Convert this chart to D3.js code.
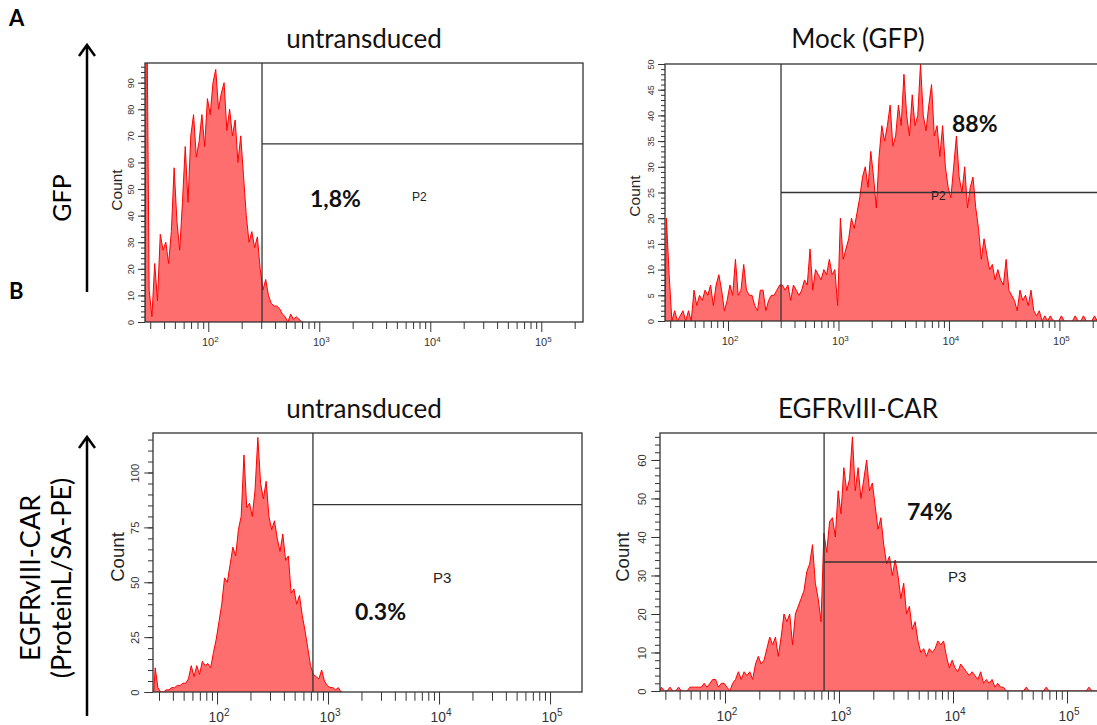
<!DOCTYPE html>
<html>
<head>
<meta charset="utf-8">
<script src="https://cdn.jsdelivr.net/npm/d3@7"></script>
<style>
  body { margin: 0; background: #fff; }
  svg text { font-family: "Liberation Sans", Arial, sans-serif; }
  .big { font-family: Lato, "Open Sans", sans-serif !important; }
</style>
</head>
<body>
<svg id="fig" width="1097" height="725"></svg>
<script>
// histogram channels: log10 fluorescence, first bin starts at binLogStart
var binLogStart = 1.43;
var binLogStep = 0.025;

// counts per channel
var untransducedGfp = [140, 12, 2, 22, 8, 33, 27, 30, 22, 34, 58, 38, 27, 45, 66, 45, 70, 78, 62, 68,
  78, 66, 84, 78, 90, 95, 80, 86, 90, 72, 80, 70, 76, 60, 70, 55, 40, 30, 34, 28,
  32, 20, 12, 16, 10, 7, 6, 6, 5, 3, 2, 0, 3, 1, 2, 1, 0];

var mockGfp = [20, 9, 0, 2, 0, 1, 2, 0, 2, 0, 6, 3, 5, 4, 6, 5, 7, 3, 7, 9,
  6, 2, 4, 7, 5, 12, 5, 6, 11, 6, 5, 5, 3, 2, 6, 6, 2, 4, 5, 5,
  6, 7, 7, 6, 7, 4, 7, 6, 5, 6, 8, 7, 14, 6, 10, 9, 8, 10, 9, 12,
  9, 10, 3, 20, 12, 14, 16, 20, 18, 21, 24, 28, 30, 26, 33, 28, 22, 32, 38, 35,
  38, 42, 34, 36, 42, 38, 48, 40, 36, 44, 38, 40, 50, 40, 37, 42, 46, 36, 38, 32,
  38, 30, 26, 24, 30, 36, 28, 25, 30, 22, 26, 28, 22, 18, 12, 16, 13, 10, 11, 8,
  10, 8, 7, 12, 6, 5, 4, 2, 6, 4, 5, 3, 6, 2, 1, 2, 0, 1, 0, 1,
  0, 0, 0, 1, 0, 0, 0, 0, 1, 0, 0, 1, 0, 0, 0, 1, 0];

var untransducedCar = [11, 2, 0, 0, 1, 1, 2, 2, 3, 3, 4, 4, 6, 12, 7, 12, 8, 14, 12, 13,
  11, 18, 24, 32, 40, 52, 50, 58, 66, 62, 74, 80, 108, 84, 86, 80, 92, 116, 95, 88,
  96, 80, 74, 78, 70, 64, 72, 60, 62, 45, 47, 40, 44, 35, 28, 20, 12, 8, 7, 6,
  10, 5, 3, 2, 2, 1, 2, 0];

var egfrCar = [1, 0, 0, 1, 0, 0, 1, 0, 0, 0, 1, 1, 1, 1, 1,
  2, 1, 2, 3, 3, 1, 2, 2, 1, 0, 2, 3, 5, 3, 5, 4, 5, 3, 7, 9,
  7, 8, 11, 14, 12, 14, 9, 14, 20, 18, 20, 12, 20, 22, 24, 26, 31, 33, 38, 28,
  24, 18, 41, 36, 44, 45, 40, 52, 46, 58, 52, 55, 66, 52, 58, 50, 55, 60, 52, 54,
  48, 42, 45, 38, 33, 35, 30, 34, 30, 24, 28, 20, 22, 16, 18, 13, 10, 11, 9, 11,
  10, 11, 13, 12, 13, 9, 6, 8, 6, 5, 7, 6, 5, 4, 5, 4, 3, 5, 2, 3,
  2, 3, 1, 2, 1, 1, 0, 0, 0, 0, 0, 0, 0, 1, 0, 0, 0, 0, 0, 0,
  1, 0, 0, 0, 0, 0, 0, 0, 0, 0, 0, 0, 0, 0, 0, 1, 0, 0, 0, 0, 0];

var panelTitles = ["untransduced", "Mock (GFP)", "untransduced", "EGFRvIII-CAR"];
var gateNames = ["P2", "P2", "P3", "P3"];
var gatePercents = ["1,8%", "88%", "0.3%", "74%"];
var gateThresholds = [305, 302, 731, 740];
var gateCountLines = [67, 25, 85.4, 33.5];
var countMax = [97.4, 50, 118, 67];
var countLabelStep = [10, 5, 25, 10];
var countMinorStep = [2, 1, 5, 2];
var decades = [2, 3, 4, 5];
var minorMult = [2, 3, 4, 5, 6, 7, 8, 9];
var rowLetters = ["A", "B"];
var rowLabels = [["GFP"], ["EGFRvIII-CAR", "(ProteinL/SA-PE)"]];

var histograms = [untransducedGfp, mockGfp, untransducedCar, egfrCar];

// where each panel sits
var layout = [
  { left: 145, top: 63, width: 438, height: 259, logMin: 1.43, logMax: 5.376, fs: 1,
    titleX: 364, titleY: 48, pct: [310, 207], gate: [412, 201], count: [117, 190] },
  { left: 665, top: 64, width: 436, height: 257, logMin: 1.43, logMax: 5.376, fs: 1,
    titleX: 858, titleY: 48, pct: [952, 132], gate: [931, 200], count: [635, 196] },
  { left: 153, top: 433, width: 429, height: 259, logMin: 1.423, logMax: 5.288, fs: 1.25,
    titleX: 364, titleY: 418, pct: [355, 620], gate: [433, 583], count: [117, 557] },
  { left: 660, top: 433, width: 441, height: 258, logMin: 1.43, logMax: 5.298, fs: 1.25,
    titleX: 858, titleY: 418, pct: [907, 520], gate: [948, 582], count: [622, 557] }
];

var svg = d3.select("#fig");

layout.forEach(function(p, k) {
  var bottom = p.top + p.height;
  var right = p.left + p.width;
  var x = d3.scaleLog()
      .domain([Math.pow(10, p.logMin), Math.pow(10, p.logMax)])
      .range([p.left, right]);
  var y = d3.scaleLinear()
      .domain([0, countMax[k]])
      .range([bottom, p.top]);

  var g = svg.append("g");

  g.append("clipPath").attr("id", "clip" + k)
    .append("rect")
      .attr("x", p.left).attr("y", p.top)
      .attr("width", p.width).attr("height", p.height);

  // channel centres, closed to the baseline at both ends
  var counts = histograms[k];
  var pts = [[Math.pow(10, binLogStart), 0]];
  counts.forEach(function(c, i) {
    pts.push([Math.pow(10, binLogStart + (i + 0.5) * binLogStep), c]);
  });
  pts.push([Math.pow(10, binLogStart + counts.length * binLogStep), 0]);

  var area = d3.area()
      .x(function(d) { return x(d[0]); })
      .y0(y(0))
      .y1(function(d) { return y(d[1]); });
  var line = d3.line()
      .x(function(d) { return x(d[0]); })
      .y(function(d) { return y(d[1]); });

  var hist = g.append("g").attr("clip-path", "url(#clip" + k + ")");
  hist.append("path").datum(pts)
      .attr("d", area)
      .attr("fill", "#ff6e6e");
  hist.append("path").datum(pts)
      .attr("d", line)
      .attr("fill", "none")
      .attr("stroke", "#ff0000")
      .attr("stroke-width", 1);

  // y axis, minor then major
  g.append("g")
      .attr("transform", "translate(" + p.left + ",0)")
      .call(d3.axisLeft(y)
        .tickValues(d3.range(0, countMax[k], countMinorStep[k]))
        .tickSize(4 * p.fs).tickSizeOuter(0).tickFormat(""))
      .call(function(a) { a.select(".domain").remove(); a.selectAll("line").attr("stroke", "#333"); });

  var yAx = g.append("g")
      .attr("transform", "translate(" + p.left + ",0)")
      .call(d3.axisLeft(y)
        .tickValues(d3.range(0, countMax[k] + 0.01, countLabelStep[k]))
        .tickSize(7 * p.fs).tickSizeOuter(0));
  yAx.select(".domain").remove();
  yAx.selectAll("line").attr("stroke", "#333");
  yAx.selectAll("text")
      .attr("x", null).attr("dy", null)
      .attr("text-anchor", "middle")
      .attr("transform", "translate(" + (-11 * p.fs) + ",0) rotate(-90)")
      .attr("font-size", 9 * p.fs)
      .attr("font-family", "Liberation Sans, Arial, sans-serif")
      .attr("fill", "#333");

  // x axis: log minor ticks and decades
  var minorVals = [];
  [1, 2, 3, 4, 5].forEach(function(n) {
    minorMult.forEach(function(m) {
      var v = m * Math.pow(10, n);
      if (v > x.domain()[0] && v < x.domain()[1]) minorVals.push(v);
    });
  });
  g.append("g")
      .attr("transform", "translate(0," + bottom + ")")
      .call(d3.axisBottom(x).tickValues(minorVals).tickSize(7 * p.fs).tickSizeOuter(0).tickFormat(""))
      .call(function(a) { a.select(".domain").remove(); a.selectAll("line").attr("stroke", "#333"); });
  g.append("g")
      .attr("transform", "translate(0," + bottom + ")")
      .call(d3.axisBottom(x).tickValues(decades.map(function(n) { return Math.pow(10, n); }))
        .tickSize(10 * p.fs).tickSizeOuter(0).tickFormat(""))
      .call(function(a) { a.select(".domain").remove(); a.selectAll("line").attr("stroke", "#333"); });

  decades.forEach(function(n) {
    var t = g.append("text")
        .attr("x", x(Math.pow(10, n)) + 2)
        .attr("y", bottom + 24 * p.fs)
        .attr("text-anchor", "middle")
        .attr("font-size", 11 * p.fs)
        .attr("fill", "#333");
    t.append("tspan").text("10");
    t.append("tspan").text(n).attr("dy", -4.5 * p.fs).attr("font-size", 8 * p.fs);
  });

  // frame
  g.append("rect")
      .attr("x", p.left).attr("y", p.top)
      .attr("width", p.width).attr("height", p.height)
      .attr("fill", "none").attr("stroke", "#333").attr("stroke-width", 1.3);

  // gate
  var gx = x(gateThresholds[k]);
  g.append("line")
      .attr("x1", gx).attr("x2", gx).attr("y1", p.top).attr("y2", bottom)
      .attr("stroke", "#333").attr("stroke-width", 1.3);
  g.append("line")
      .attr("x1", gx).attr("x2", right).attr("y1", y(gateCountLines[k])).attr("y2", y(gateCountLines[k]))
      .attr("stroke", "#333").attr("stroke-width", 1.3);

  g.append("text")
      .attr("x", p.gate[0]).attr("y", p.gate[1])
      .attr("font-size", 12 * p.fs)
      .attr("fill", "#222")
      .text(gateNames[k]);

  g.append("text").attr("class", "big")
      .attr("x", p.pct[0]).attr("y", p.pct[1])
      .attr("font-size", 23)
      .attr("font-weight", "bold")
      .attr("fill", "#111")
      .text(gatePercents[k]);

  g.append("text").attr("class", "big")
      .attr("x", p.titleX).attr("y", p.titleY)
      .attr("text-anchor", "middle")
      .attr("font-size", 26)
      .attr("fill", "#111")
      .text(panelTitles[k]);

  g.append("text")
      .attr("transform", "translate(" + p.count[0] + "," + p.count[1] + ") rotate(-90)")
      .attr("text-anchor", "middle")
      .attr("dy", "0.35em")
      .attr("font-size", 15.5 * (p.fs > 1 ? 1.2 : 1))
      .attr("fill", "#222")
      .text("Count");
});

// row letters, arrows and row labels
var rows = [
  { letterY: 26, arrowTop: 45, arrowBottom: 292, labelX: [62], labelY: 198, labelSize: 25 },
  { letterY: 299, arrowTop: 437, arrowBottom: 716, labelX: [31, 62], labelY: 578, labelSize: 27 }
];

rows.forEach(function(r, i) {
  svg.append("text").attr("class", "big")
      .attr("x", 9).attr("y", r.letterY)
      .attr("font-size", 22).attr("font-weight", "bold")
      .text(rowLetters[i]);

  svg.append("line")
      .attr("x1", 87).attr("x2", 87).attr("y1", r.arrowTop + 1).attr("y2", r.arrowBottom)
      .attr("stroke", "#000").attr("stroke-width", 2.5);
  svg.append("path")
      .attr("d", d3.line()([[79, r.arrowTop + 11], [87, r.arrowTop], [95, r.arrowTop + 11]]))
      .attr("fill", "none").attr("stroke", "#000").attr("stroke-width", 2.5);

  rowLabels[i].forEach(function(s, j) {
    svg.append("text").attr("class", "big")
        .attr("transform", "translate(" + r.labelX[j] + "," + r.labelY + ") rotate(-90)")
        .attr("text-anchor", "middle")
        .attr("dy", "0.35em")
        .attr("font-size", r.labelSize)
        .text(s);
  });
});
</script>
</body>
</html>
